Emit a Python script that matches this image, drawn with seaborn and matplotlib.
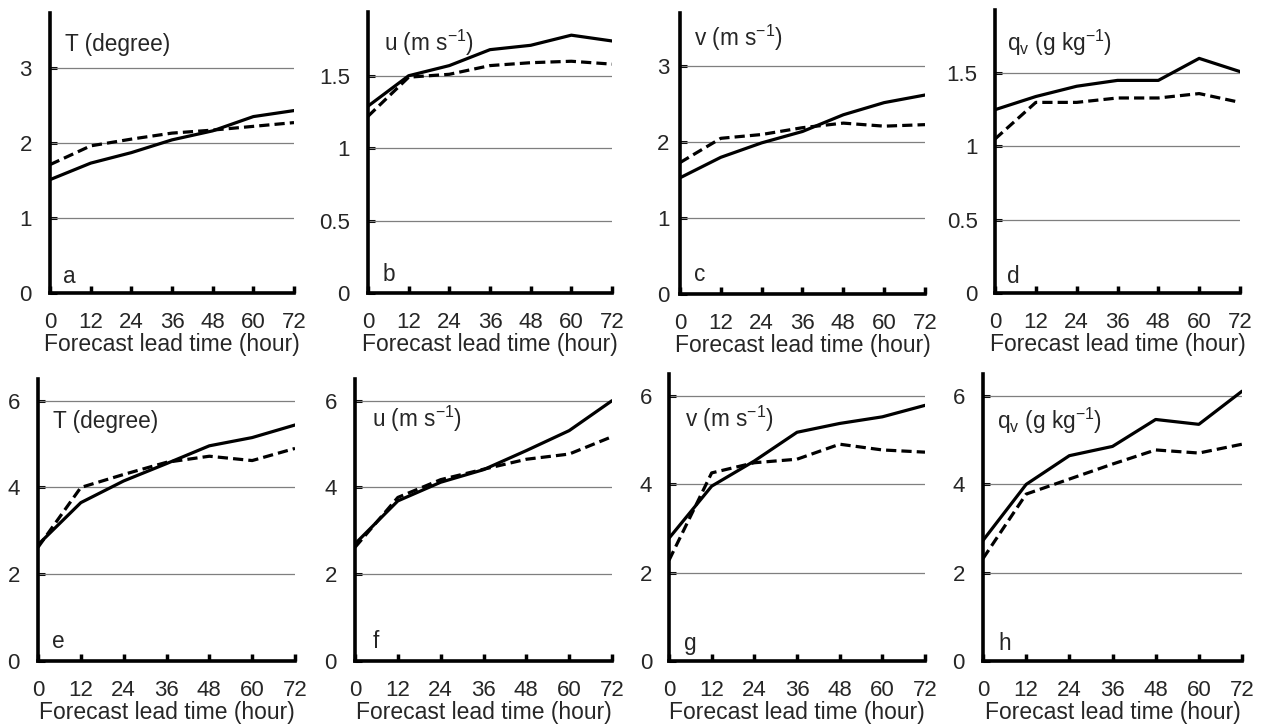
import matplotlib
matplotlib.use("Agg")
import matplotlib.pyplot as plt
import numpy as np
import pandas as pd
import seaborn as sns

# Forecast lead times (hours)
lead_hours = [0, 12, 24, 36, 48, 60, 72]
xtick_labels = ["0", "12", "24", "36", "48", "60", "72"]

# Error curves, one pair (solid / dashed) per panel
a_solid = [1.51, 1.73, 1.87, 2.04, 2.16, 2.35, 2.43]
a_dashed = [1.71, 1.96, 2.05, 2.13, 2.17, 2.22, 2.27]
b_solid = [1.29, 1.50, 1.57, 1.68, 1.71, 1.78, 1.74]
b_dashed = [1.22, 1.49, 1.51, 1.57, 1.59, 1.60, 1.58]
c_solid = [1.53, 1.80, 1.99, 2.14, 2.36, 2.52, 2.62]
c_dashed = [1.73, 2.05, 2.10, 2.19, 2.25, 2.21, 2.23]
d_solid = [1.25, 1.34, 1.41, 1.45, 1.45, 1.60, 1.51]
d_dashed = [1.05, 1.30, 1.30, 1.33, 1.33, 1.36, 1.30]
e_solid = [2.68, 3.65, 4.15, 4.55, 4.96, 5.15, 5.44]
e_dashed = [2.62, 4.00, 4.30, 4.58, 4.72, 4.62, 4.90]
f_solid = [2.70, 3.69, 4.12, 4.41, 4.85, 5.31, 6.00]
f_dashed = [2.62, 3.77, 4.18, 4.42, 4.65, 4.77, 5.17]
g_solid = [2.78, 3.96, 4.53, 5.18, 5.38, 5.53, 5.79]
g_dashed = [2.28, 4.26, 4.49, 4.57, 4.91, 4.78, 4.73]
h_solid = [2.73, 4.00, 4.65, 4.86, 5.47, 5.36, 6.11]
h_dashed = [2.32, 3.78, 4.12, 4.46, 4.78, 4.71, 4.91]

panel_letters = ["a", "b", "c", "d", "e", "f", "g", "h"]
panel_titles = [
    "T (degree)",
    r"u (m s$\mathregular{^{-1}}$)",
    r"v (m s$\mathregular{^{-1}}$)",
    r"q$\mathregular{_v}$ (g kg$\mathregular{^{-1}}$)",
    "T (degree)",
    r"u (m s$\mathregular{^{-1}}$)",
    r"v (m s$\mathregular{^{-1}}$)",
    r"q$\mathregular{_v}$ (g kg$\mathregular{^{-1}}$)",
]
y_ticks = [
    [0, 1, 2, 3],
    [0, 0.5, 1, 1.5],
    [0, 1, 2, 3],
    [0, 0.5, 1, 1.5],
    [0, 2, 4, 6],
    [0, 2, 4, 6],
    [0, 2, 4, 6],
    [0, 2, 4, 6],
]
y_tick_labels = [
    ["0", "1", "2", "3"],
    ["0", "0.5", "1", "1.5"],
    ["0", "1", "2", "3"],
    ["0", "0.5", "1", "1.5"],
    ["0", "2", "4", "6"],
    ["0", "2", "4", "6"],
    ["0", "2", "4", "6"],
    ["0", "2", "4", "6"],
]
y_tops = [3.73, 1.94, 3.70, 1.93, 6.5, 6.5, 6.5, 6.5]

solid_series = [a_solid, b_solid, c_solid, d_solid, e_solid, f_solid, g_solid, h_solid]
dashed_series = [a_dashed, b_dashed, c_dashed, d_dashed, e_dashed, f_dashed, g_dashed, h_dashed]

sns.set_theme(style="white")
plt.rcParams["font.family"] = ["Liberation Sans", "DejaVu Sans"]
plt.rcParams["mathtext.fontset"] = "custom"
plt.rcParams["mathtext.rm"] = "Liberation Sans"
plt.rcParams["mathtext.it"] = "Liberation Sans:italic"

W, H = 1261, 726
fig = plt.figure(figsize=(W / 100, H / 100), dpi=100)
fig.patch.set_facecolor("white")

# axes boxes in pixels: (left, right, bottom, top)
boxes = [
    (50, 294, 293, 13),
    (368, 612, 293, 12),
    (680, 925, 294, 13),
    (995, 1240, 293, 10),
    (38, 295, 661, 379),
    (355, 612, 661, 379),
    (669, 925, 661, 374),
    (983, 1242, 661, 374),
]
ytick_pads = [13, 13, 7.5, 12.5, 13, 13, 12, 13]
title_xy = [
    (0.06, 0.886), (0.066, 0.89), (0.057, 0.91), (0.049, 0.885),
    (0.058, 0.85), (0.066, 0.858), (0.062, 0.843), (0.054, 0.836),
]
letter_xy = [
    (0.053, 0.06), (0.06, 0.065), (0.057, 0.07), (0.05, 0.06),
    (0.054, 0.07), (0.07, 0.07), (0.06, 0.06), (0.058, 0.06),
]

for i in range(8):
    l, r, b, t = boxes[i]
    ax = fig.add_axes([l / W, (H - b) / H, (r - l) / W, (b - t) / H])
    df = pd.DataFrame({
        "hour": lead_hours * 2,
        "value": solid_series[i] + dashed_series[i],
        "run": ["solid"] * 7 + ["dashed"] * 7,
    })
    sns.lineplot(
        data=df, x="hour", y="value", style="run",
        dashes={"solid": "", "dashed": (3.2, 1.6)},
        color="black", linewidth=2.3, legend=False, ax=ax, zorder=3,
    )
    ax.set_xlim(0, 72)
    ax.set_ylim(0, y_tops[i])
    ax.set_xticks(lead_hours)
    ax.set_xticklabels(xtick_labels)
    ax.set_yticks(y_ticks[i])
    ax.set_yticklabels(y_tick_labels[i])
    for yv in y_ticks[i][1:]:
        ax.axhline(yv, color="#7f7f7f", linewidth=0.9, zorder=1)
    ax.tick_params(axis="x", direction="in", length=5, width=2.5, color="black",
                   labelsize=16, pad=14, bottom=True)
    ax.tick_params(axis="y", direction="in", length=5, width=2.2, color="black",
                   labelsize=16, pad=ytick_pads[i], left=True)
    for side in ["top", "right"]:
        ax.spines[side].set_visible(False)
    for side in ["left", "bottom"]:
        ax.spines[side].set_linewidth(2.6)
        ax.spines[side].set_color("black")
    ax.set_xlabel("Forecast lead time (hour)", fontsize=16.5, labelpad=0)
    ax.set_ylabel("")
    ax.text(title_xy[i][0], title_xy[i][1], panel_titles[i], transform=ax.transAxes,
            fontsize=16.3, ha="left", va="center")
    ax.text(letter_xy[i][0], letter_xy[i][1], panel_letters[i], transform=ax.transAxes,
            fontsize=16.3, ha="left", va="center")
    ax.set_facecolor("white")

fig.savefig("out.png", dpi=100, facecolor="white")
